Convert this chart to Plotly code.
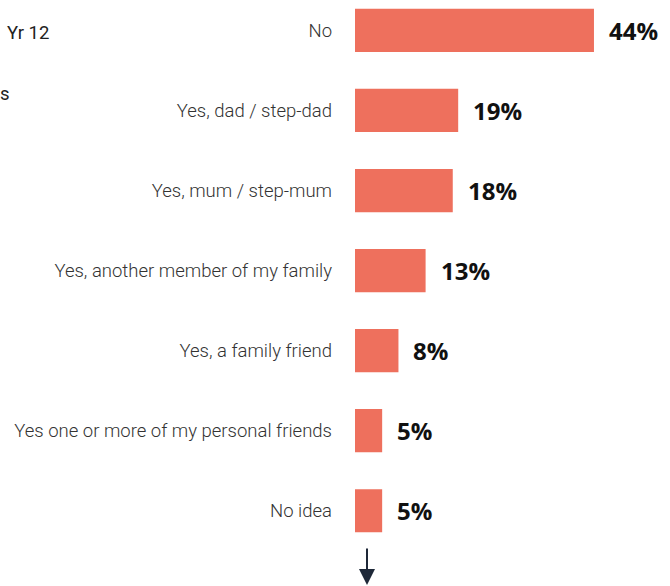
import plotly.graph_objects as go

categories = ["No", "Yes, dad / step-dad", "Yes, mum / step-mum",
              "Yes, another member of my family", "Yes, a family friend",
              "Yes one or more of my personal friends", "No idea"]
values = [44, 19, 18, 13, 8, 5, 5]
value_labels = ["44%", "19%", "18%", "13%", "8%", "5%", "5%"]

W, H = 670, 586
L = 355
fig = go.Figure()
fig.add_trace(go.Bar(
    x=values, y=categories, orientation="h",
    marker=dict(color="#EE705D", line=dict(width=0)),
    width=0.54, hoverinfo="skip",
))

annotations = []
for c, v, t in zip(categories, values, value_labels):
    annotations.append(dict(
        x=v, y=c, xref="x", yref="y", text=t, showarrow=False,
        xanchor="left", yanchor="middle", xshift=13,
        font=dict(family="Open Sans", size=24, color="#111111", weight="bold"),
    ))

def px_to_paper_x(px):
    return (px - L) / (W - L)

annotations.append(dict(
    x=px_to_paper_x(5), y=1 - 33 / H, xref="paper", yref="paper", text="Yr 12",
    showarrow=False, xanchor="left", yanchor="middle",
    font=dict(family="Roboto", size=18.5, color="#222222"),
))
annotations.append(dict(
    x=px_to_paper_x(-2), y=1 - 94 / H, xref="paper", yref="paper", text="s",
    showarrow=False, xanchor="left", yanchor="middle",
    font=dict(family="Roboto", size=18.5, color="#222222"),
))
annotations.append(dict(
    x=px_to_paper_x(367), y=1 - 585 / H, xref="paper", yref="paper", text="",
    showarrow=True, ax=0, ay=-38, axref="pixel", ayref="pixel",
    arrowhead=2, arrowsize=1.6, arrowwidth=2, arrowcolor="#1E2838",
))

fig.update_layout(
    width=W, height=H,
    margin=dict(l=L, r=0, t=0, b=0, pad=0),
    paper_bgcolor="white", plot_bgcolor="white",
    showlegend=False,
    bargap=0.46,
    xaxis=dict(range=[0, 58], visible=False, fixedrange=True),
    yaxis=dict(
        range=[6.94, -0.38], showgrid=False, zeroline=False, showline=False,
        ticks="", ticklabelstandoff=22,
        tickfont=dict(family="Roboto", size=18.5, color="#333333", weight=300),
        automargin=False,
    ),
    annotations=annotations,
)

fig.write_html("out.html")
